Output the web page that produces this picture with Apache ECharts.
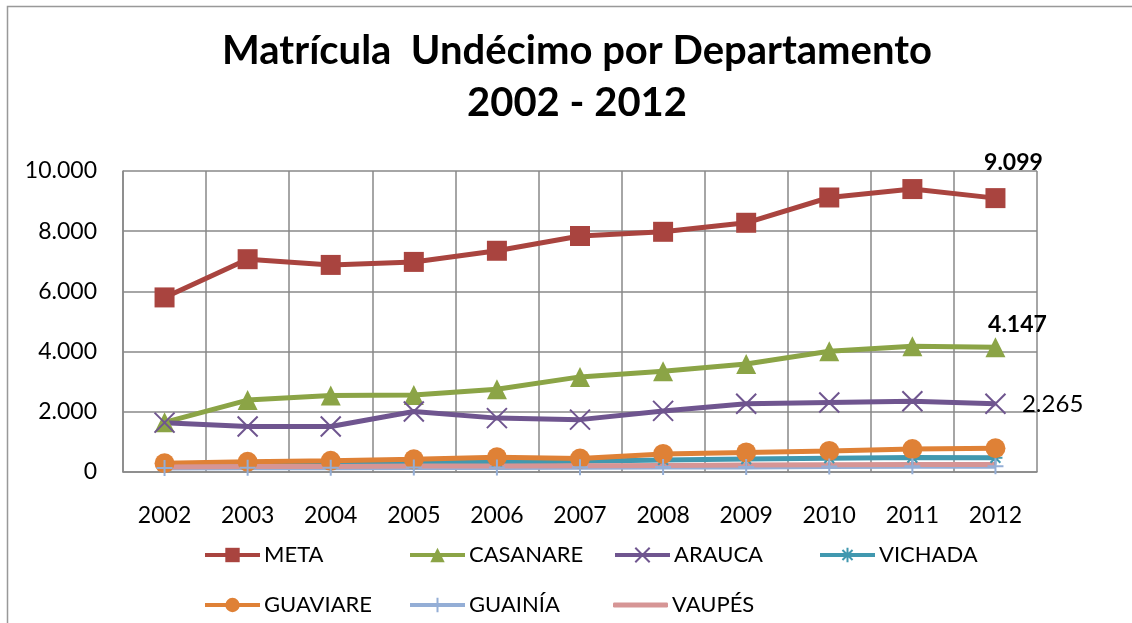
<!DOCTYPE html>
<html>
<head>
<meta charset="utf-8">
<script src="https://cdn.jsdelivr.net/npm/echarts@6/dist/echarts.min.js"></script>
<style>
  html, body { margin: 0; padding: 0; background: #fff; }
  #chart { width: 1132px; height: 623px; }
</style>
</head>
<body>
<div id="chart"></div>
<script>
// años
const years = ['2002', '2003', '2004', '2005', '2006', '2007', '2008', '2009', '2010', '2011', '2012']
// matrícula por departamento
const meta = [5800, 7070, 6880, 6980, 7350, 7840, 7980, 8280, 9120, 9400, 9099]
const casanare = [1650, 2390, 2540, 2560, 2750, 3160, 3350, 3590, 4010, 4180, 4147]
const arauca = [1640, 1510, 1510, 2010, 1790, 1740, 2030, 2270, 2310, 2350, 2265]
const vichada = [230, 250, 260, 300, 330, 360, 400, 430, 460, 480, 470]
const guaviare = [290, 340, 370, 420, 490, 450, 600, 650, 700, 760, 790]
const guainia = [130, 140, 140, 150, 150, 160, 170, 170, 180, 190, 190]
const vaupes = [170, 180, 180, 200, 200, 210, 220, 230, 240, 250, 250]
const yTicks = [0, 2000, 4000, 6000, 8000, 10000]

const fmt = (v) => String(v).replace(/\B(?=(\d{3})+(?!\d))/g, '.')
const lastOnly = (p) => p.dataIndex === years.length - 1 ? fmt(p.value) : ''

const myChart = echarts.init(document.getElementById('chart'))

const mkSeries = (name, data, color, symbol, size, stroke) => {
  const s = {
    name: name,
    type: 'line',
    data: data,
    symbol: symbol,
    symbolSize: size,
    showAllSymbol: true,
    lineStyle: { color: color, width: 5 },
    itemStyle: { color: color }
  }
  if (stroke) {
    s.itemStyle = { color: 'none', borderColor: color, borderWidth: 2 }
  }
  return s
}

const sMeta = mkSeries('META', meta, '#A9443F', 'rect', 20)
sMeta.label = {
  show: true, position: 'top', distance: 20, offset: [18, 6],
  fontFamily: 'Lato', fontSize: 23, fontWeight: 'bold', color: '#000', formatter: lastOnly
}
const sCas = mkSeries('CASANARE', casanare, '#8BA446', 'triangle', 20)
sCas.label = {
  show: true, position: 'top', distance: 10, offset: [22, 9],
  fontFamily: 'Lato', fontSize: 23, fontWeight: 'bold', color: '#000', formatter: lastOnly
}
const sAra = mkSeries('ARAUCA', arauca, '#6F558F', 'path://M0,0L20,20M20,0L0,20', 20, true)
sAra.label = {
  show: true, position: 'right', distance: 14, offset: [0, 0],
  fontFamily: 'Lato', fontSize: 24, color: '#000', formatter: lastOnly
}
const sVic = mkSeries('VICHADA', vichada, '#4198AF', 'path://M0,10L20,10M10,0L10,20M3,3L17,17M17,3L3,17', 14, true)
const sGuav = mkSeries('GUAVIARE', guaviare, '#DF8136', 'circle', 20)
const sGuai = mkSeries('GUAINÍA', guainia, '#94AED6', 'path://M10,0L10,20M0,10L20,10', 16, true)
const sVau = mkSeries('VAUPÉS', vaupes, '#D69595', 'none', 0)

// one legend per item so they sit on Excel's fixed columns
const legendAt = (name, left, top) => ({
  left: left,
  top: top,
  data: [name],
  itemWidth: 55,
  itemHeight: 18,
  itemGap: 0,
  lineStyle: { width: 4 },
  textStyle: { fontFamily: 'Lato', fontSize: 22, color: '#000', padding: [0, 0, 0, -1] }
})

// VAUPÉS has no marker: plain bar as its key
const legendVau = legendAt('VAUPÉS', 608, 589)
legendVau.data = [{ name: 'VAUPÉS', icon: 'roundRect' }]
legendVau.itemHeight = 5

const option = {
  animation: false,
  title: {
    text: 'Matrícula  Undécimo por Departamento\n2002 - 2012',
    left: 572,
    textAlign: 'center',
    top: 20,
    textStyle: { fontFamily: 'Lato', fontSize: 40, fontWeight: 'bold', color: '#000', lineHeight: 52 }
  },
  graphic: [{
    type: 'rect',
    shape: { x: 7.5, y: 6.5, width: 1200, height: 700 },
    style: { fill: 'none', stroke: '#999', lineWidth: 1.5 }
  }],
  legend: [
    legendAt('META', 198, 539),
    legendAt('CASANARE', 403, 539),
    legendAt('ARAUCA', 608, 539),
    legendAt('VICHADA', 813, 539),
    legendAt('GUAVIARE', 198, 589),
    legendAt('GUAINÍA', 403, 589),
    legendVau
  ],
  grid: { left: 123, right: 95, top: 171, bottom: 151 },
  xAxis: {
    type: 'category',
    data: years,
    boundaryGap: true,
    axisLine: { lineStyle: { color: '#888', width: 1.5 } },
    axisTick: { show: false },
    axisLabel: { fontFamily: 'Lato', fontSize: 23, color: '#000', margin: 32 },
    splitLine: { show: true, lineStyle: { color: '#888', width: 1.5 } }
  },
  yAxis: {
    type: 'value',
    min: yTicks[0],
    max: yTicks[yTicks.length - 1],
    interval: 2000,
    axisLine: { show: true, lineStyle: { color: '#888', width: 1.5 } },
    axisTick: { show: false },
    axisLabel: { fontFamily: 'Lato', fontSize: 23, color: '#000', margin: 26, formatter: fmt },
    splitLine: { show: true, lineStyle: { color: '#888', width: 1.5 } }
  },
  series: [sMeta, sCas, sAra, sVic, sGuav, sGuai, sVau]
}
option && myChart.setOption(option)
</script>
</body>
</html>
